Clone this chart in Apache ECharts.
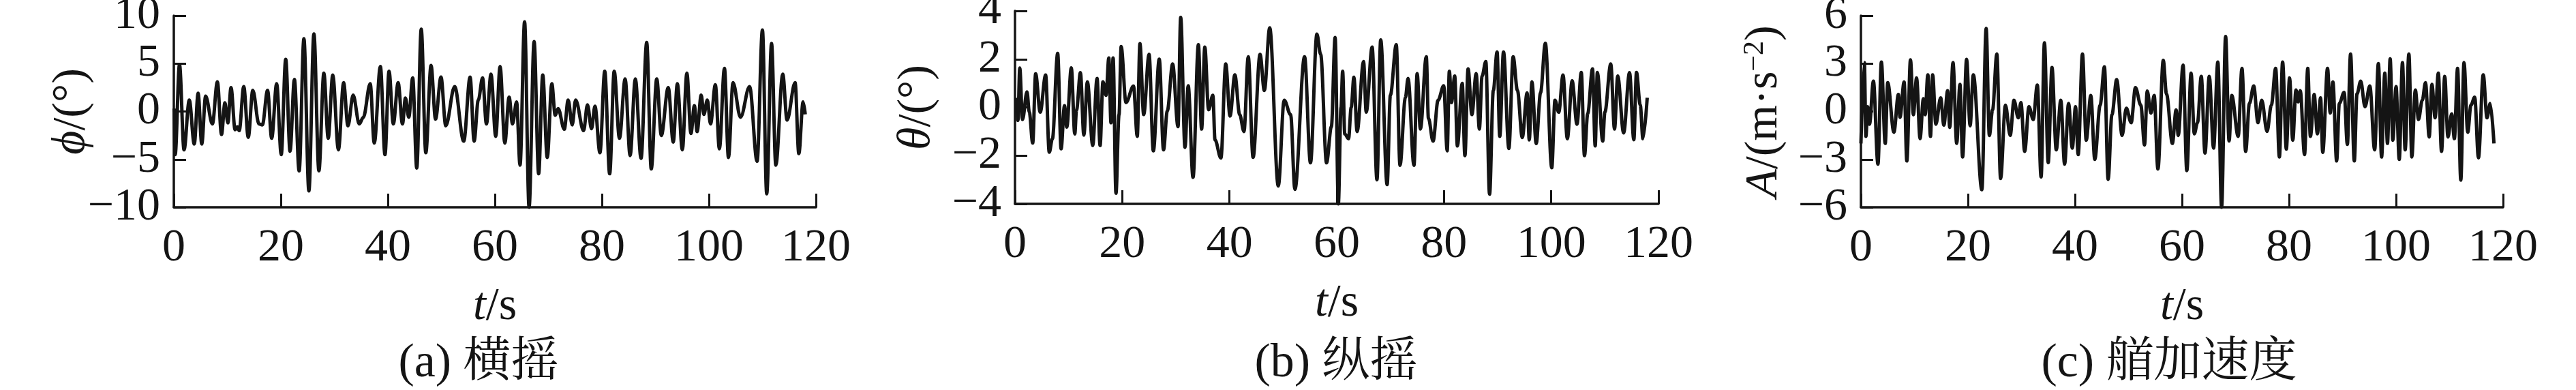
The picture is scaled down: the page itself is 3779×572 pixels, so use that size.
<!DOCTYPE html>
<html>
<head>
<meta charset="utf-8">
<script src="https://cdn.jsdelivr.net/npm/echarts@6/dist/echarts.min.js"></script>
<style>
  html, body { margin: 0; padding: 0; background: #fff; }
  #chart { width: 3779px; height: 572px; }
</style>
</head>
<body>
<div id="chart"></div>
<script>
// roll angle phi (deg): turning points [t, value]
const rollT = [0.05, 0.25, 1.06, 1.91, 2.89, 3.82, 4.54, 5.22, 5.94, 7.21, 8.14, 8.91, 9.55, 10.1, 10.69, 11.45, 11.87, 12.22, 13.07, 13.91, 14.76, 15.91, 16.55, 17.52, 18.29, 19.22, 20.07, 20.91, 21.72, 22.53, 23.42, 24.31, 25.24, 26.18, 27.11, 28.04, 28.85, 29.7, 30.76, 31.73, 32.54, 33.51, 34.66, 35.42, 36.7, 37.46, 38.6, 39.46, 40.22, 41.02, 41.92, 42.73, 43.28, 43.91, 44.64, 45.4, 46.24, 47.09, 48.07, 48.91, 49.93, 50.82, 52.48, 54.18, 55.37, 56.12, 56.9, 57.7, 58.42, 59.27, 60.16, 60.97, 61.86, 62.66, 63.3, 64.06, 64.7, 65.55, 66.39, 67.33, 68.18, 68.94, 69.79, 70.64, 71.27, 71.82, 72.97, 73.69, 74.45, 75.09, 76.58, 77.3, 78.06, 78.7, 79.63, 80.53, 81.45, 82.3, 83.28, 84.34, 85.27, 86.25, 87.31, 88.37, 89.22, 90.25, 91.1, 92.4, 93.33, 94.1, 95.03, 95.88, 96.64, 97.28, 97.79, 98.55, 99.06, 99.7, 100.3, 101.2, 101.95, 102.9, 103.65, 104.5, 105.9, 107.6, 109.0, 110.0, 110.8, 111.7, 112.5, 113.8, 114.6, 116.1, 116.8, 117.6, 118.0];
const rollV = [0.3, -4.5, 4.9, -4.0, 1.2, -3.4, 1.9, -3.4, 1.6, -1.3, 3.1, -2.4, 0.9, -1.2, 2.5, -1.9, -1.6, -2.0, 2.6, -2.7, 2.2, -1.3, -1.4, 2.2, -2.8, 2.9, -4.5, 5.45, -4.15, 3.35, -6.2, 7.6, -8.3, 8.1, -6.2, 4.0, -2.8, 3.8, -4.0, 3.0, -1.5, 1.7, -1.3, -0.6, 2.9, -3.3, 4.7, -4.5, 4.2, -1.3, 3.0, -1.3, 1.4, -0.6, 3.5, -5.9, 8.6, -4.3, 4.8, -0.8, 3.6, -1.5, 2.6, -3.1, 3.6, -3.1, 1.2, 3.5, -1.3, 3.9, -2.6, 4.7, -3.3, 1.5, -1.3, 1.0, -5.6, 9.36, -10, 7.3, -6.5, 3.8, -4.8, 2.9, -0.4, 0.3, -1.85, 1.2, -1.4, 1.2, -2.0, 0.7, -1.8, 0.55, -4.3, 4.2, -6.5, 4.2, -2.8, 3.4, -4.6, 3.4, -4.9, 7.2, -6.0, 3.4, -2.5, 2.5, -3.2, 2.9, -4.0, 4.0, -2.3, 0.6, -2.1, 1.7, -0.3, 1.2, -1.3, 2.8, -3.9, 4.5, -4.8, 3.0, -0.6, 2.6, -5.2, 8.5, -8.6, 7.1, -5.6, 3.9, -0.9, 3.0, -4.4, 1.0, -0.3];

// pitch angle theta (deg), panel (b)
const pitchT = [0.34, 0.55, 0.89, 1.4, 2.24, 2.67, 3.3, 3.85, 4.7, 5.71, 6.39, 6.98, 7.96, 8.6, 9.23, 9.66, 10.5, 11.15, 11.47, 12.2, 12.84, 13.5, 14.5, 15.3, 15.87, 16.4, 16.98, 17.5, 17.9, 18.3, 18.83, 19.4, 19.8, 20.7, 22.1, 22.8, 23.3, 24.0, 25.0, 25.8, 26.9, 27.7, 28.4, 29.4, 30.4, 30.9, 31.7, 32.3, 33.2, 34.2, 34.8, 35.4, 36.1, 36.9, 37.3, 38.4, 39.3, 40.1, 41.0, 41.9, 42.7, 43.5, 44.4, 45.7, 46.5, 47.5, 49.1, 50.2, 51.4, 52.2, 54.0, 55.1, 56.3, 57.0, 58.1, 59.0, 59.7, 60.3, 60.8, 61.1, 61.5, 62.2, 62.7, 63.2, 63.8, 65.0, 65.5, 66.6, 67.5, 68.2, 69.4, 70.0, 71.1, 71.8, 72.8, 73.3, 74.4, 75.0, 75.6, 76.7, 77.1, 77.96, 78.9, 79.95, 80.6, 81.0, 81.4, 82.0, 82.5, 83.4, 83.9, 84.5, 85.2, 86.0, 86.6, 87.1, 87.8, 88.5, 89.2, 89.9, 90.4, 91.1, 92.1, 92.9, 93.7, 94.6, 95.5, 95.9, 96.4, 97.2, 98.0, 98.9, 100.1, 100.7, 101.4, 102.2, 103.0, 103.9, 104.8, 105.6, 106.2, 106.8, 107.7, 108.2, 108.6, 109.6, 110.0, 111.1, 111.8, 112.4, 113.5, 114.6, 115.4, 115.9, 116.6, 117.1, 117.9];
const pitchV = [0.4, -0.54, 1.63, -0.5, 0.64, -0.2, -1.48, 1.39, -0.2, 1.34, -1.86, -1.3, 2.24, -1.72, 0.07, -0.82, 1.64, -1.1, -0.12, 1.44, -1.15, 1.06, -1.58, 1.2, -1.58, 1.06, 0.5, 2.05, -0.64, 2.05, -3.56, -0.3, 2.52, 0.2, 0.88, -1.2, 2.64, -0.3, 2.2, -1.8, 2.0, -1.76, -0.15, 1.8, -0.8, 3.73, -1.66, 0.9, -2.9, 2.6, -0.9, 2.5, -0.1, 0.5, -1.35, -2.1, 1.8, -0.36, 1.35, -0.3, -1.0, 2.1, -2.07, 2.2, 0.7, 3.3, -3.26, 0.3, -0.3, -3.4, 2.1, -2.3, 3.04, 2.2, -2.3, -0.8, 2.9, -4.0, 0.0, 1.5, -1.1, -1.3, 0.0, 1.25, -1.0, 1.9, -0.2, 2.5, -3.0, 2.8, -3.2, 0.5, 2.6, -2.4, 0.4, 1.2, -2.4, 1.4, -0.9, 2.1, -0.45, -1.4, 0.3, 0.9, -1.8, 1.5, 0.2, 1.3, -1.6, 1.0, -2.0, 1.6, -0.3, 1.4, -0.9, 1.3, 1.9, -3.6, 0.7, 2.3, -1.2, 2.3, -1.7, 2.1, 0.7, -1.25, 0.6, -1.35, 1.06, -1.5, 0.6, 2.66, -2.5, 0.3, -0.2, 1.34, -1.3, 1.1, -0.7, 1.45, -2.0, -0.26, 1.6, -1.6, 1.45, -1.4, -0.2, 1.8, -0.9, 1.3, -1.06, 1.44, -1.34, 1.45, 0.1, -1.3, 0.4];

// surge acceleration A (m/s^2), panel (c)
const accT = [0.0, 0.64, 0.93, 1.27, 1.6, 2.33, 3.18, 3.82, 4.54, 5.01, 6.16, 7.0, 7.3, 8.07, 8.58, 9.26, 9.8, 10.4, 11.05, 11.67, 12.0, 12.5, 13.0, 13.4, 14.0, 14.9, 15.5, 16.2, 16.6, 17.2, 17.9, 18.5, 19.0, 19.75, 20.4, 21.0, 22.6, 23.4, 24.0, 24.6, 25.4, 26.1, 27.0, 27.9, 28.6, 29.4, 29.9, 30.6, 31.4, 32.2, 32.96, 33.67, 34.29, 35.0, 35.7, 36.5, 37.35, 38.06, 38.8, 39.5, 40.1, 40.6, 41.4, 42.1, 42.96, 43.7, 44.7, 45.5, 46.2, 46.9, 47.8, 48.8, 49.6, 50.5, 51.3, 52.3, 53.0, 53.5, 54.2, 54.8, 55.5, 56.5, 57.1, 58.2, 58.9, 59.3, 60.2, 60.9, 61.7, 62.3, 62.9, 63.6, 64.3, 65.1, 65.9, 66.7, 67.4, 68.15, 68.8, 69.3, 70.5, 71.2, 71.9, 72.6, 73.4, 74.2, 74.9, 75.9, 76.7, 77.5, 78.2, 78.8, 79.5, 80.1, 80.7, 81.3, 81.7, 82.1, 82.9, 83.5, 84.0, 84.7, 85.3, 85.9, 86.3, 87.2, 87.7, 88.2, 88.9, 89.4, 90.3, 90.9, 91.5, 92.2, 92.7, 93.4, 94.2, 95.1, 96.0, 96.7, 97.3, 97.9, 98.4, 98.9, 99.4, 100.0, 100.6, 101.2, 101.7, 102.4, 102.95, 103.6, 104.2, 104.9, 105.5, 106.2, 106.7, 107.3, 107.9, 108.5, 109.1, 109.7, 110.4, 110.9, 111.5, 112.1, 112.7, 113.4, 114.0, 114.7, 115.4, 116.3, 117.0, 117.6, 118.3];
const accV = [-2.0, 3.06, -1.56, 0.3, -0.8, 1.9, -3.3, 3.1, -2.0, 1.8, -1.3, 1.07, -0.36, 1.85, -3.1, 3.24, -0.2, 2.1, -1.7, 0.8, -0.2, 2.3, -1.56, 2.3, -0.8, 0.85, -0.85, 1.3, -1.0, 3.06, -2.0, 1.7, -2.85, 3.27, -0.9, 2.3, -4.9, 5.2, -1.5, 0.1, 3.6, -4.2, 0.4, -1.5, 0.7, -0.4, 0.56, -2.5, 0.3, -0.5, 1.66, -4.1, 4.3, -3.2, 2.75, -2.4, 0.7, -3.3, 0.5, -2.3, 0.3, -2.7, 3.6, -1.8, 1.0, -3.0, 0.4, 2.8, -4.25, -0.2, 2.0, -1.5, 0.2, -0.7, 1.5, 0.4, -2.1, 1.28, -0.1, 1.0, -3.6, 3.2, 1.1, -2.0, 0.1, -1.5, 2.9, -3.7, 2.4, -1.4, -0.7, 2.2, -2.6, 2.2, -2.3, 3.1, -6.0, 4.7, -1.85, 1.0, -1.56, 2.7, -2.5, 0.5, 1.6, -0.7, 0.7, -1.25, 0.4, 2.7, -2.85, 3.1, -2.35, 2.1, -1.8, 1.35, 0.6, 1.3, -2.7, 2.7, -1.56, 1.07, -1.4, 0.85, -2.56, 2.7, -0.1, 1.85, -3.1, 0.5, 1.2, -2.06, 3.6, -3.1, 1.1, 1.9, 0.3, 1.6, -2.4, 3.0, -2.85, 2.4, -2.0, 3.3, -1.8, 1.56, -3.0, 3.06, -2.4, 3.6, -2.85, 1.35, -0.5, 0.7, 1.8, -1.6, 1.7, -0.4, 2.4, -2.5, 2.2, -1.6, -0.15, -1.7, 2.7, -4.3, 3.06, -1.3, 0.4, 0.9, -2.9, 2.3, -0.4, 0.5, -2.0];

const xTicks = [0, 20, 40, 60, 80, 100, 120];

const SERIF = '"Liberation Serif", "Times New Roman", serif';
const CJK = '"Liberation Serif", "Noto Serif CJK SC", "Noto Sans CJK SC", serif';
const INK = '#141414';
const FS = 68;

function zip(ts, vs) {
  return ts.map((t, i) => [t, vs[i]]);
}

const panels = [
  { left: 255, top: 23, width: 942, height: 281, min: -10, max: 10, step: 5, gap: 116,
    name: '{i|ϕ}{n|/(°)}', caption: '(a) 横摇', capX: 702, data: zip(rollT, rollV) },
  { left: 1489, top: 16, width: 944, height: 283, min: -4, max: 4, step: 2, gap: 110,
    name: '{i|θ}{n|/(°)}', caption: '(b) 纵摇', capX: 1960, data: zip(pitchT, pitchV) },
  { left: 2730, top: 23, width: 942, height: 281, min: -6, max: 6, step: 3, gap: 108,
    name: '{i|A}{n|/(m·s}{s|−2}{n|)}', caption: '(c) 艏加速度', capX: 3182, data: zip(accT, accV) }
];

const rich = {
  i: { fontFamily: SERIF, fontSize: FS, fontStyle: 'italic', color: INK, lineHeight: FS },
  n: { fontFamily: SERIF, fontSize: FS, color: INK, lineHeight: FS },
  s: { fontFamily: SERIF, fontSize: 42, color: INK, lineHeight: 42, verticalAlign: 'top' }
};

const axisLine = { show: true, onZero: false, lineStyle: { color: INK, width: 3.5 } };
const labelStyle = { fontFamily: SERIF, fontSize: FS, color: INK };

const option = {
  animation: false,
  backgroundColor: '#fff',
  grid: panels.map(p => ({
    left: p.left, top: p.top, width: p.width, height: p.height,
    containLabel: false, outerBoundsMode: 'none'
  })),
  xAxis: panels.map((p, i) => ({
    type: 'value', gridIndex: i, min: 0, max: 120, interval: 20,
    axisLine: axisLine,
    axisTick: { show: true, inside: true, length: 20, lineStyle: { color: INK, width: 3 } },
    axisLabel: Object.assign({ margin: 26, showMinLabel: true, showMaxLabel: true,
      customValues: xTicks }, labelStyle),
    splitLine: { show: false },
    name: '{i|t}{n|/s}', nameLocation: 'middle', nameGap: 112, nameMoveOverlap: false,
    nameTextStyle: { rich: rich }
  })),
  yAxis: panels.map((p, i) => ({
    type: 'value', gridIndex: i, min: p.min, max: p.max, interval: p.step,
    axisLine: axisLine,
    axisTick: { show: true, inside: true, length: 18, lineStyle: { color: INK, width: 3 } },
    axisLabel: Object.assign({ margin: 20,
      formatter: v => String(v).replace('-', '\u2212') }, labelStyle),
    splitLine: { show: false },
    name: p.name, nameLocation: 'middle', nameRotate: 90, nameGap: p.gap, nameMoveOverlap: false,
    nameTextStyle: { rich: rich }
  })),
  series: panels.map((p, i) => ({
    type: 'line', xAxisIndex: i, yAxisIndex: i,
    data: p.data, showSymbol: false, symbol: 'none',
    smooth: 0.35, smoothMonotone: 'x',
    lineStyle: { color: INK, width: 5 },
    clip: false
  })),
  graphic: panels.map(p => ({
    type: 'text', x: p.capX, y: 534,
    style: {
      text: p.caption, font: '70px ' + CJK, fill: INK,
      textAlign: 'center', textVerticalAlign: 'middle',
      align: 'center', verticalAlign: 'middle'
    }
  }))
};

const chart = echarts.init(document.getElementById('chart'), null, { renderer: 'canvas' });
chart.setOption(option);
</script>
</body>
</html>
